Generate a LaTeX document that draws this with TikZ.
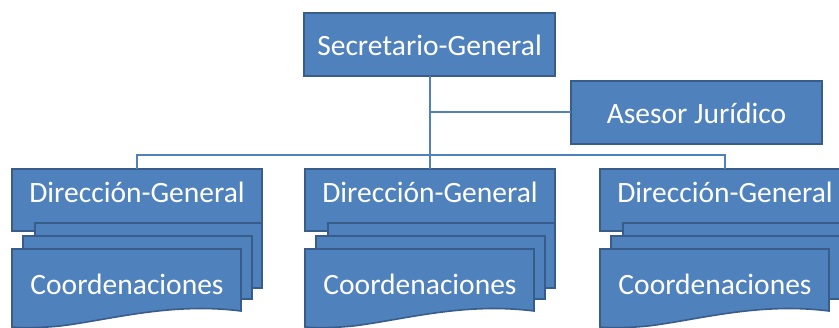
\documentclass[tikz,border=0pt]{standalone}
\usepackage{fontspec}
\setmainfont{Carlito}
\definecolor{boxfill}{HTML}{4F81BD}
\definecolor{boxline}{HTML}{385D8A}
\definecolor{conn}{HTML}{4F81BD}
\begin{document}
\begin{tikzpicture}[x=1pt,y=-1pt,
  orgbox/.style={draw=boxline,fill=boxfill,line width=1.6pt},
  page/.style={draw=boxline,fill=boxfill,line width=1.6pt,line join=miter},
  lbl/.style={text=white,font=\fontsize{29.5}{32}\selectfont,inner sep=0pt},
  conline/.style={draw=conn,line width=1.8pt}]
\useasboundingbox (0,0) rectangle (839,328);
\begin{scope}
\clip (0,0) rectangle (839,328);
% top boxes
\draw[orgbox] (304,13) rectangle (555,76);
\node[lbl] (sg) at (429.5,45) {Secretario-General};
\coordinate (sgb) at (430,76);
\draw[orgbox] (571,81) rectangle (822,144);
\node[lbl] (aj) at (696.5,113) {Asesor Jurídico};
\coordinate (ajl) at (571,112);
\coordinate (bar) at (430,155);
\coordinate (jn) at (430,112);
% columns
\foreach \dx/\nm in {0/a,293/b,588/c}{
  \begin{scope}[xshift=\dx]
    \draw[orgbox] (12,169) rectangle (262,231);
    \coordinate (dg\nm) at (137,169);
    \draw[page] (35,223) rectangle (262,288);
    \draw[page] (23,236) rectangle (252,299);
    \draw[page] (12,249) -- (241,249) -- (241,311)
      .. controls (170,302) and (110,320) .. (60,326)
      .. controls (40,328) and (20,328) .. (12,327) -- cycle;
    \node[lbl] at (137,192) {Dirección-General};
    \node[lbl] at (127,284) {Coordenaciones};
  \end{scope}
}
\end{scope}
% connectors
\draw[conline] (sgb) -- (bar);
\draw[conline] (jn) -- (ajl);
\draw[conline] (dga) |- (bar) -| (dgc);
\draw[conline] (bar) -- (dgb);
\end{tikzpicture}
\end{document}
